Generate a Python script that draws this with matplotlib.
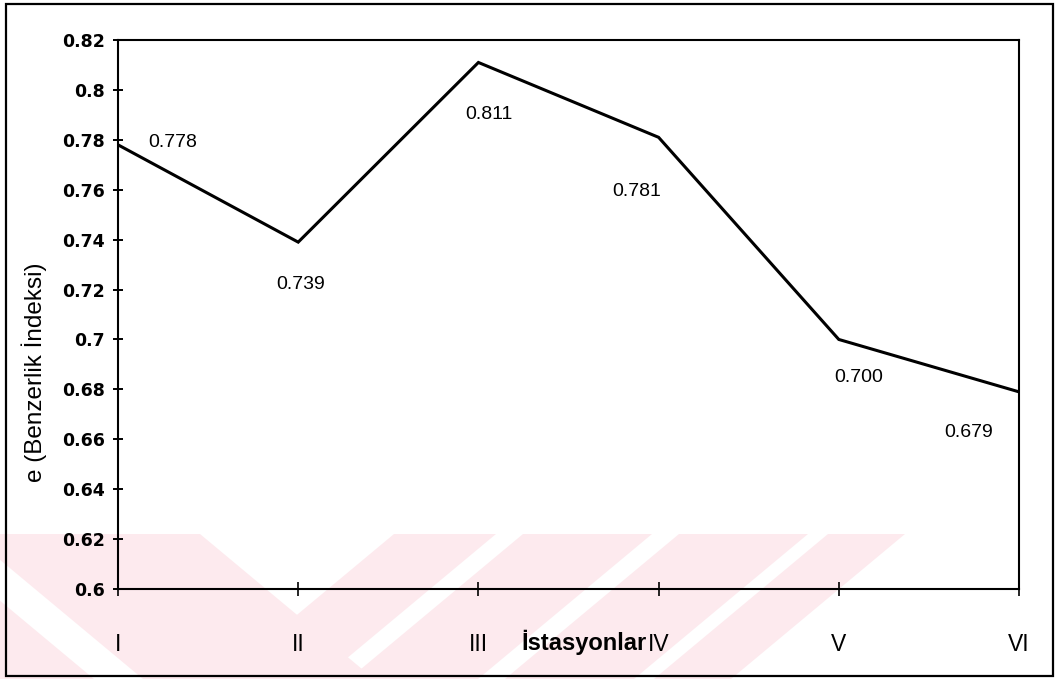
import numpy as np
import matplotlib.pyplot as plt
from matplotlib.patches import Polygon, Rectangle

# stations and similarity index values
stations = ['I', 'II', 'III', 'IV', 'V', 'VI']
e_index = [0.778, 0.739, 0.811, 0.781, 0.700, 0.679]
value_labels = ['0.778', '0.739', '0.811', '0.781', '0.700', '0.679']
# where each value label sits relative to its point (pixels)
label_offsets = [(55, 2), (2, -42), (11, -52), (-22, -54), (20, -38), (-50, -41)]

y_ticks = np.arange(0.60, 0.821, 0.02)
y_tick_labels = ['0.6', '0.62', '0.64', '0.66', '0.68', '0.7',
                 '0.72', '0.74', '0.76', '0.78', '0.8', '0.82']

W, H = 1059, 679
fig = plt.figure(figsize=(W / 100, H / 100), dpi=100)
fig.patch.set_facecolor('white')


def px(x, y):
    # pixel position measured from the top-left -> figure fraction
    return (x / W, 1 - y / H)


# faint pink stripes in the lower part of the page (behind everything)
pink = '#fdeaee'
k, top, bot = 1.2, 534, 690
for a, b in [(-230, -80), (-31, 200)]:
    pts = [px(a, top), px(b, top), px(b + k * (bot - top), bot), px(a + k * (bot - top), bot)]
    fig.patches.append(Polygon(pts, closed=True, transform=fig.transFigure,
                               facecolor=pink, edgecolor='none', zorder=-5))
for a, b in [(394, 496), (523, 652), (679, 808), (828, 905)]:
    pts = [px(a, top), px(b, top), px(b - k * (bot - top), bot), px(a - k * (bot - top), bot)]
    fig.patches.append(Polygon(pts, closed=True, transform=fig.transFigure,
                               facecolor=pink, edgecolor='none', zorder=-5))

# outer frame around the whole chart
x0, y0 = px(6, 676)
x1, y1 = px(1053, 4)
fig.patches.append(Rectangle((x0, y0), x1 - x0, y1 - y0, transform=fig.transFigure,
                             fill=False, edgecolor='black', linewidth=1.6, zorder=-1))

ax = fig.add_axes([118 / W, (H - 589) / H, 901 / W, 549 / H])
ax.set_zorder(2)
ax.patch.set_alpha(0)

x = np.arange(len(stations))
ax.plot(x, e_index, color='black', linewidth=2.2, solid_joinstyle='miter')

for xi, yi, txt, off in zip(x, e_index, value_labels, label_offsets):
    ax.annotate(txt, (xi, yi), xytext=off, textcoords='offset pixels',
                ha='center', va='center', fontsize=14, family='Liberation Sans')

ax.set_xlim(0, len(stations) - 1)
ax.set_ylim(0.6, 0.82)

ax.set_yticks(y_ticks)
ax.set_yticklabels(y_tick_labels, fontsize=12.5, fontweight='bold', family='DejaVu Sans')
ax.set_xticks(x)
ax.set_xticklabels(stations, fontsize=16.5, family='Liberation Sans')

ax.tick_params(axis='y', direction='inout', length=7, width=1.4, pad=6)
ax.tick_params(axis='x', direction='inout', length=10, width=1.2, pad=27)

for side in ['left', 'bottom', 'top', 'right']:
    ax.spines[side].set_linewidth(1.5)

fig.text(34 / W, 1 - 372 / H, 'e (Benzerlik İndeksi)', rotation=90,
         ha='center', va='center', fontsize=17.5, family='Liberation Sans', zorder=3)
fig.text(521 / W, 1 - 650 / H, 'İstasyonlar', ha='left', va='baseline',
         fontsize=17, fontweight='bold', family='Liberation Sans', zorder=3)

fig.savefig('out.png', dpi=100)
